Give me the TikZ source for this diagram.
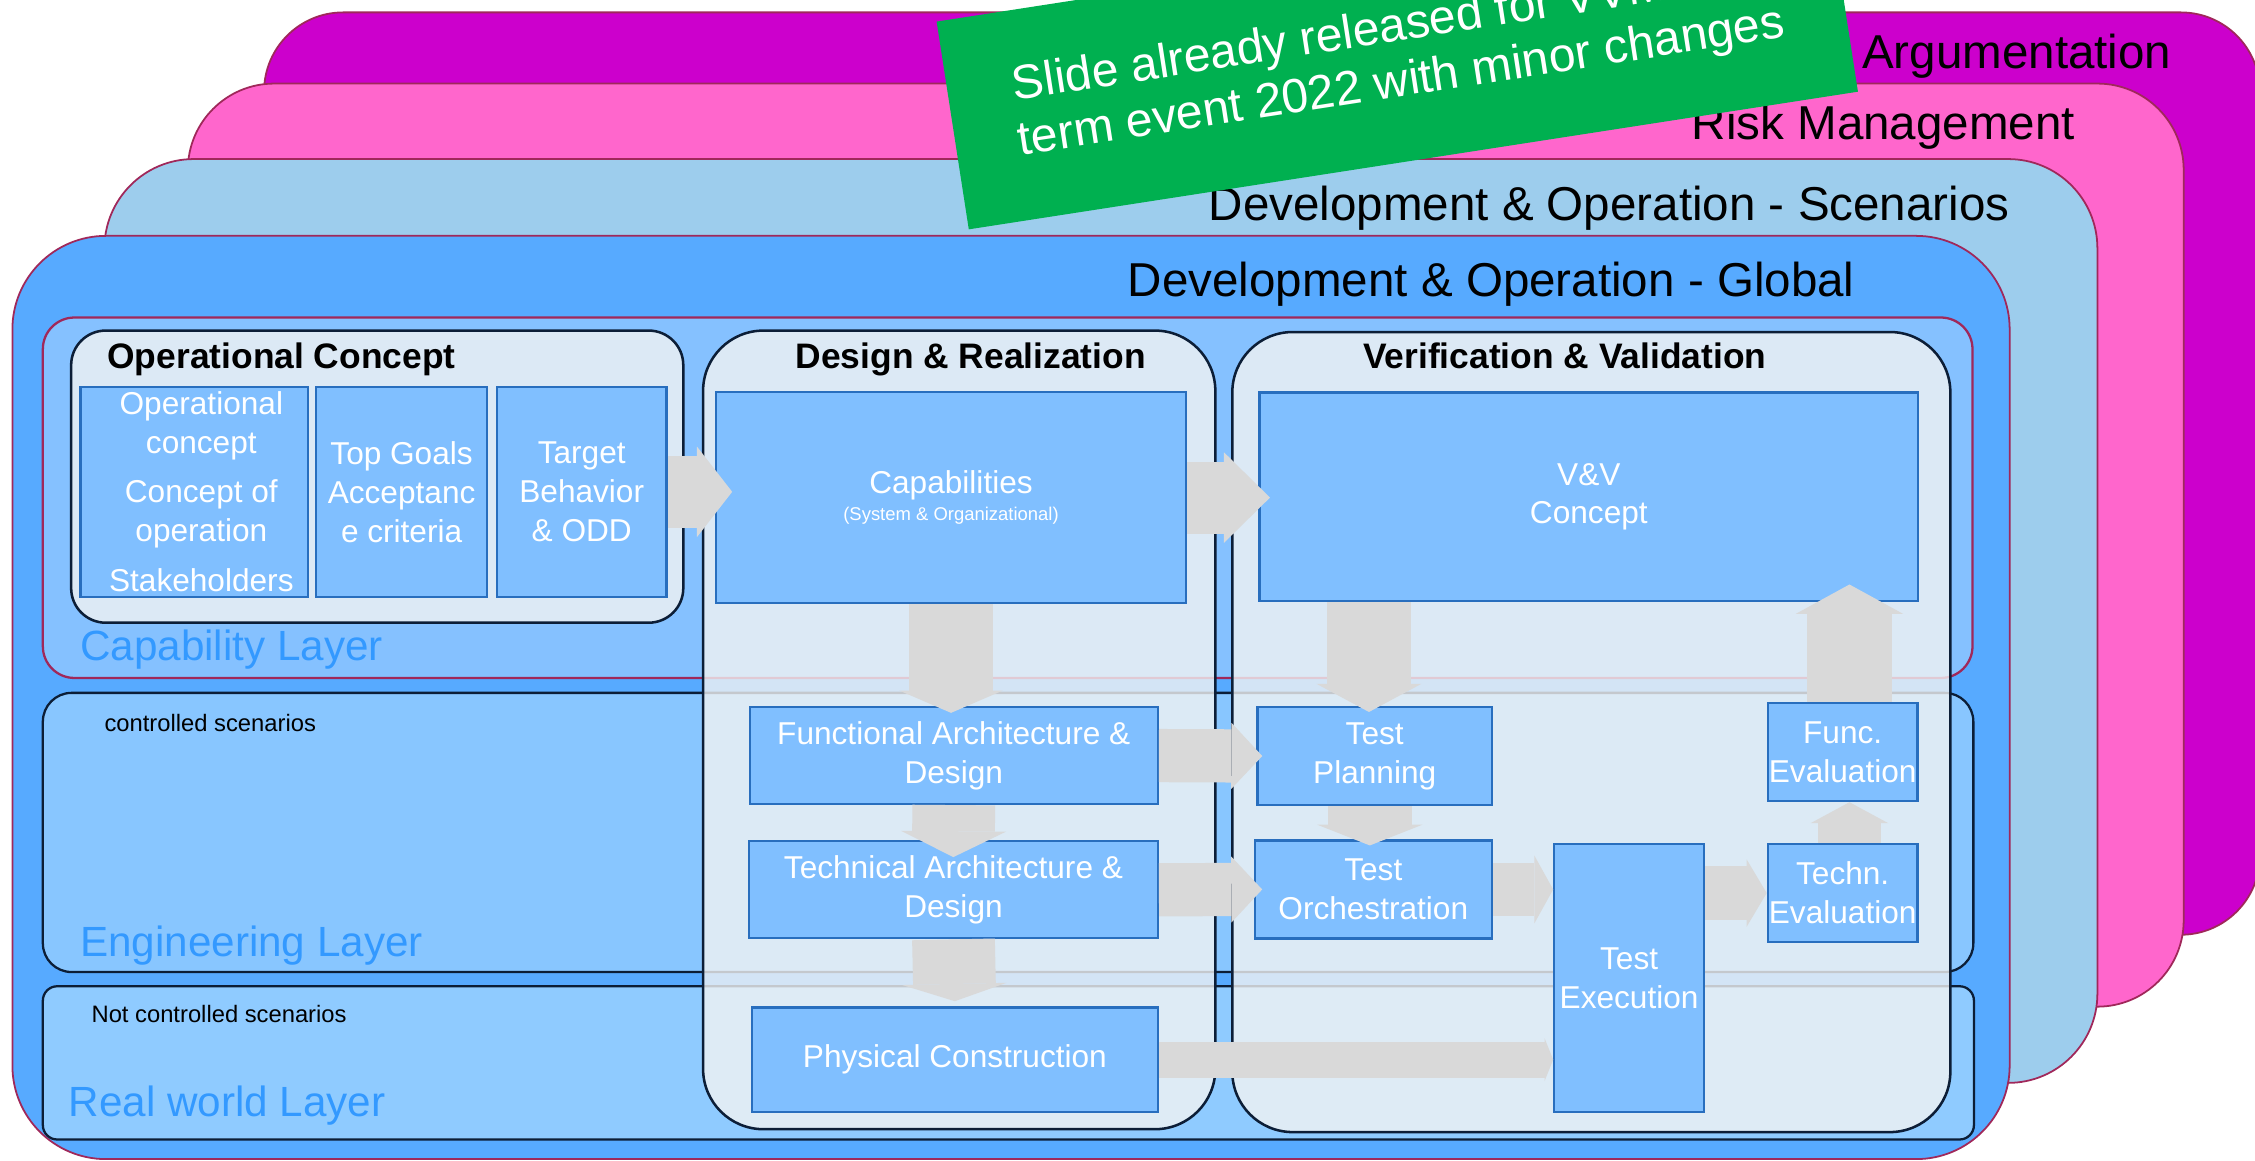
\documentclass[tikz,border=0pt]{standalone}
\usepackage{fontspec}
\setmainfont{Liberation Sans}
\usetikzlibrary{positioning}
\usetikzlibrary{arrows.meta}

\definecolor{argcol}{RGB}{204,0,204}
\definecolor{riskcol}{RGB}{255,102,204}
\definecolor{scencol}{RGB}{157,205,237}
\definecolor{globcol}{RGB}{87,170,255}
\definecolor{layeredge}{RGB}{160,40,90}
\definecolor{capfill}{RGB}{133,193,255}
\definecolor{engfill}{RGB}{136,198,255}
\definecolor{realfill}{RGB}{143,203,255}
\definecolor{navy}{RGB}{12,30,55}
\definecolor{colfill}{RGB}{242,243,243}
\definecolor{boxfill}{RGB}{128,191,255}
\definecolor{boxedge}{RGB}{40,110,190}
\definecolor{layertext}{RGB}{51,153,255}
\definecolor{bannergreen}{RGB}{0,176,80}
\definecolor{arrowgray}{RGB}{217,217,217}

\newcommand{\ttlfont}{\fontsize{9.4}{11.1}\selectfont}
\newcommand{\bannertxt}{\fontsize{9.5}{10.9}\selectfont}
\newcommand{\headtxt}{\bfseries\fontsize{7}{8.4}\selectfont}
\newcommand{\lyrtxt}{\fontsize{8.35}{10}\selectfont}
\newcommand{\boxtxt}{\fontsize{6.25}{7.7}\selectfont}
\newcommand{\subtxt}{\fontsize{3.65}{4.4}\selectfont}
\newcommand{\notetxt}{\fontsize{4.7}{5.6}\selectfont}

\tikzstyle{layer} = [rectangle, draw=layeredge, line width=0.35pt, anchor=north west, inner sep=0pt]
\tikzstyle{band} = [rectangle, line width=0.45pt, anchor=north west, inner sep=0pt]
\tikzstyle{column} = [rectangle, draw=navy, line width=0.5pt, fill=colfill, fill opacity=0.8,
                anchor=north west, inner sep=0pt]
\tikzstyle{innerbox} = [rectangle, draw=boxedge, line width=0.45pt, fill=boxfill, text=white,
                font=\boxtxt, align=center, inner sep=0pt]
\tikzstyle{ttl} = [font=\ttlfont, anchor=base east, inner sep=0pt]
\tikzstyle{head} = [font=\headtxt, anchor=base, inner sep=0pt]
\tikzstyle{lyrlabel} = [font=\lyrtxt, text=layertext, anchor=base west, inner sep=0pt]
\tikzstyle{note} = [font=\notetxt, anchor=base west, inner sep=0pt]
\tikzset{garrow/.style n args={3}{draw=arrowgray, line width=#1,
                -{Triangle[width=#2, length=#3, line width=0pt]}}}

\begin{document}
\begin{tikzpicture}[x=0.01cm, y=-0.01cm]
        \useasboundingbox (0,0) rectangle (1568,807);
        \clip (0,0) rectangle (1568,807);
        % stacked layers
        \node[layer, fill=argcol, minimum width=13.87cm, minimum height=6.41cm, rounded corners=0.55cm](arg) at (183,8){};
        \node[layer, fill=riskcol, minimum width=13.87cm, minimum height=6.415cm, rounded corners=0.6cm](risk) at (130,57.5){};
        \node[layer, fill=scencol, minimum width=13.85cm, minimum height=6.42cm, rounded corners=0.62cm](scen) at (72,110){};
        \node[layer, fill=globcol, minimum width=13.88cm, minimum height=6.416cm, rounded corners=0.65cm](glob) at (8,163.4){};
        \node[ttl](argttl) at (1510.6,47.5){Argumentation};
        \node[ttl](riskttl) at (1443.5,96.9){Risk Management};
        \node[ttl](scenttl) at (1398,153){Development \& Operation - Scenarios};
        \node[ttl](globttl) at (1290.3,206.3){Development \& Operation - Global};
        % banner
        \node[fill=bannergreen, text=white, font=\bannertxt, align=center, rotate=8.8,
              minimum width=6.253cm, minimum height=1.461cm, inner sep=0pt](banner) at (971.6,39.4)
              {Slide already released for VVM mid-\\term event 2022 with minor changes};
        % horizontal layers
        \node[band, fill=capfill, draw=layeredge, minimum width=13.41cm, minimum height=2.505cm, rounded corners=0.22cm](capband) at (29,220){};
        \node[band, fill=engfill, draw=navy, minimum width=13.416cm, minimum height=1.94cm, rounded corners=0.2cm](engband) at (29,481){};
        \node[band, fill=realfill, draw=navy, minimum width=13.42cm, minimum height=1.065cm, rounded corners=0.1cm](realband) at (29,685){};
        \node[lyrlabel](caplabel) at (55,459.6){Capability Layer};
        \node[lyrlabel](englabel) at (55,665){Engineering Layer};
        \node[lyrlabel](reallabel) at (47,776.4){Real world Layer};
        \node[note](engnote) at (72,508.5){controlled scenarios};
        \node[note](realnote) at (63,711){Not controlled scenarios};
        % columns
        \node[column, minimum width=4.254cm, minimum height=2.03cm, rounded corners=0.24cm](ocbox) at (48.6,229){};
        \node[column, minimum width=3.56cm, minimum height=5.55cm, rounded corners=0.42cm](drbox) at (488,229){};
        \node[column, minimum width=4.99cm, minimum height=5.56cm, rounded corners=0.42cm](vvbox) at (856,230){};
        \node[head, anchor=base west](ochead) at (74,256){Operational Concept};
        \node[head](drhead) at (675,256){Design \& Realization};
        \node[head](vvhead) at (1088,256){Verification \& Validation};
        % boxes
        \node[innerbox, minimum width=1.58cm, minimum height=1.46cm](opconc) at (135,342)
              {\hspace*{0.1cm}Operational\\\hspace*{0.1cm}concept\\[2pt]\hspace*{0.1cm}Concept of\\\hspace*{0.1cm}operation\\[2.1pt]\hspace*{0.1cm}Stakeholders};
        \node[innerbox, minimum width=1.185cm, minimum height=1.46cm](goals) at (279.25,342){Top Goals\\Acceptanc\\e criteria};
        \node[innerbox, minimum width=1.18cm, minimum height=1.46cm](tgt) at (404.5,342){Target\\Behavior\\\& ODD};
        \node[innerbox, minimum width=3.266cm, minimum height=1.47cm](capab) at (661.3,346)
              {Capabilities\\[-2.3pt]{\subtxt (System \& Organizational)}};
        \node[innerbox, minimum width=4.576cm, minimum height=1.45cm](vvc) at (1104.8,345.5){V\&V\\Concept};
        \node[innerbox, minimum width=2.835cm, minimum height=0.672cm](func) at (663.2,525.4){Functional Architecture \&\\Design};
        \node[innerbox, minimum width=2.84cm, minimum height=0.674cm](tech) at (663,618.7){Technical Architecture \&\\Design};
        \node[innerbox, minimum width=2.82cm, minimum height=0.724cm](phys) at (664,736.8){Physical Construction};
        \node[innerbox, minimum width=1.629cm, minimum height=0.68cm](tp) at (955.9,525.7){Test\\Planning};
        \node[innerbox, minimum width=1.648cm, minimum height=0.68cm](orch) at (954.9,618.5){Test\\Orchestration};
        \node[innerbox, minimum width=1.04cm, minimum height=1.86cm](exec) at (1132.8,680){Test\\Execution};
        \node[innerbox, minimum width=1.04cm, minimum height=0.68cm](fe) at (1281.3,523){Func.\\Evaluation};
        \node[innerbox, minimum width=1.04cm, minimum height=0.68cm](te) at (1281.3,621){Techn.\\Evaluation};
        % flow arrows
        \draw[garrow={0.50cm}{0.63cm}{0.245cm}, shorten >=-0.12cm] (tgt.east) -- (tgt.east -| capab.west);
        \draw[garrow={0.50cm}{0.63cm}{0.32cm}, shorten >=-0.08cm] (capab.east) -- (capab.east -| vvc.west);
        \draw[garrow={0.585cm}{0.72cm}{0.155cm}, shorten >=-0.047cm] (capab.south) -- (capab.south |- func.north);
        \draw[garrow={0.575cm}{0.73cm}{0.18cm}, shorten >=-0.118cm] (func.south) -- (tech.north);
        \draw[garrow={0.575cm}{0.725cm}{0.12cm}, shorten >=0.036cm] (tech.south) -- (phys.north);
        \draw[garrow={0.37cm}{0.46cm}{0.215cm}, shorten >=-0.041cm] (func.east) -- (tp.west);
        \draw[garrow={0.37cm}{0.46cm}{0.215cm}, shorten >=-0.06cm] (tech.east) -- (orch.west);
        \draw[garrow={0.25cm}{0.30cm}{0.06cm}] (phys.east) -- (phys.east -| exec.west);
        \draw[garrow={0.586cm}{0.73cm}{0.196cm}, shorten >=-0.042cm] ([xshift=-0.04cm]tp.north |- vvc.south) -- ([xshift=-0.04cm]tp.north);
        \draw[garrow={0.58cm}{0.73cm}{0.144cm}, shorten >=-0.042cm] ([xshift=-0.034cm]tp.south) -- ([xshift=-0.034cm]tp.south |- orch.north);
        \draw[garrow={0.37cm}{0.47cm}{0.13cm}] (orch.east) -- (orch.east -| exec.west);
        \draw[garrow={0.37cm}{0.47cm}{0.14cm}] (te.west -| exec.east) -- (te.west);
        \draw[garrow={0.437cm}{0.54cm}{0.146cm}] ([xshift=0.047cm]te.north) -- ([xshift=0.047cm]fe.south);
        \draw[garrow={0.585cm}{0.745cm}{0.204cm}, shorten >=-0.124cm] ([xshift=0.047cm]fe.north) -- ([xshift=0.047cm]fe.north |- vvc.south);
    \end{tikzpicture}
\end{document}
